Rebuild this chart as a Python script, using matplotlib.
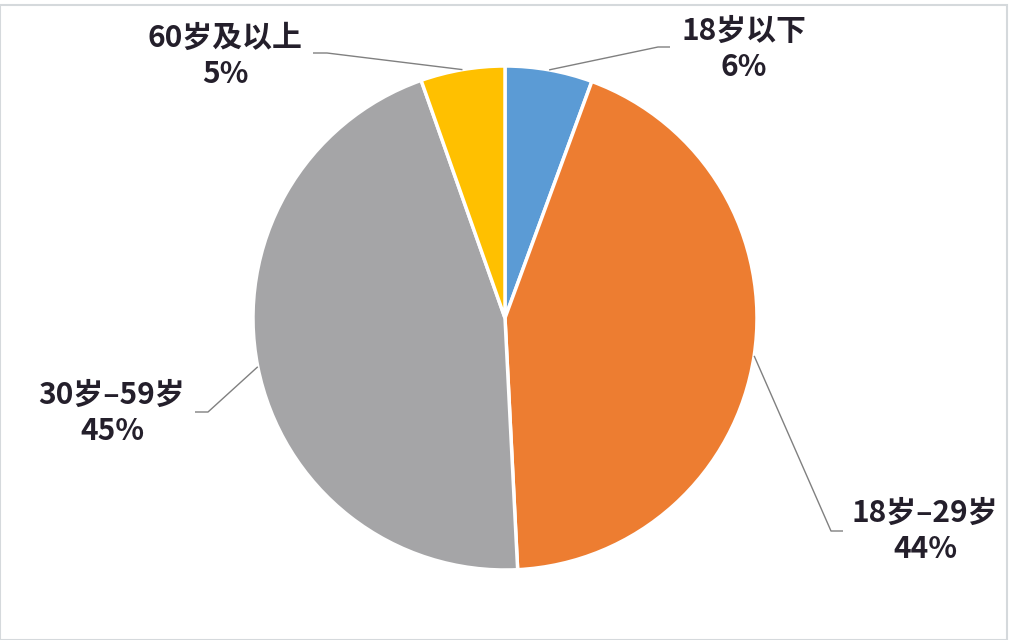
import numpy as np
import matplotlib.pyplot as plt
from matplotlib.patches import Rectangle

plt.rcParams['font.family'] = ['Noto Sans CJK SC', 'DejaVu Sans']

# age groups and shares (%)
groups = ['18岁以下', '18岁–29岁', '30岁–59岁', '60岁及以上']
shares = [5.6, 43.6, 45.4, 5.4]
colors = ['#5B9BD5', '#ED7D31', '#A5A5A7', '#FFC000']

# label layout in pixel units (y measured from top)
label_xy = [(744, 49), (925, 531), (112, 413), (225, 56)]
elbows = [(658, 47), (831, 531), (208, 412), (327, 53)]
ends = [(670, 47), (843, 531), (195, 412), (313, 53)]

W, H = 1012, 640
cx, cy, r = 505, 318, 252

fig = plt.figure(figsize=(W / 100, H / 100), dpi=100)
ax = fig.add_axes([0, 0, 1, 1])

wedges, _ = ax.pie(shares, colors=colors, startangle=90, counterclock=False,
                   center=(cx, H - cy), radius=r,
                   wedgeprops=dict(edgecolor='white', linewidth=2.5))

# pie() resets the limits, so set the pixel frame afterwards
ax.set_xlim(0, W)
ax.set_ylim(0, H)
ax.set_aspect('equal')
ax.axis('off')

for w, name, val, (tx, ty), (ex, ey), (fx, fy) in zip(
        wedges, groups, shares, label_xy, elbows, ends):
    mid = np.deg2rad((w.theta1 + w.theta2) / 2)
    sx = cx + r * np.cos(mid)
    sy = (H - cy) + r * np.sin(mid)
    ax.plot([sx, ex, fx], [sy, H - ey, H - fy], color='#808080', lw=1.0,
            solid_capstyle='butt', zorder=1)
    ax.text(tx, H - ty, f'{name}\n{round(val):.0f}%', ha='center', va='center',
            fontsize=21.5, fontweight='bold', color='#241f2b', linespacing=1.25)

fig.patches.append(Rectangle((0.5 / W, 0.5 / H), 1 - 5 / W, 1 - 5 / H,
                             transform=fig.transFigure, fill=False,
                             edgecolor='#d5d9dc', lw=1.5))

fig.savefig('out.png', dpi=100)
